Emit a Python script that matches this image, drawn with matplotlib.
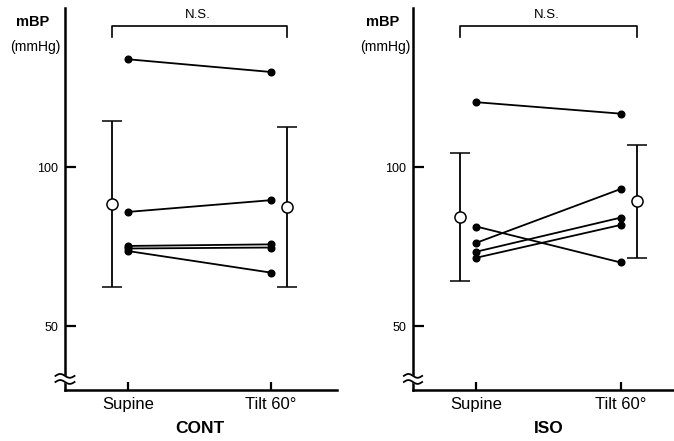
import numpy as np
import matplotlib
matplotlib.use("Agg")
import matplotlib.pyplot as plt

plt.rcParams['font.family'] = ['Liberation Sans', 'DejaVu Sans']

# Condiciones en el eje x
conditions = ['Supine', 'Tilt 60°']

# Valores individuales (mBP, mmHg)
cont_supine = [134.0, 86.0, 75.3, 74.5, 73.7]
cont_tilt = [130.0, 89.7, 75.8, 74.8, 66.9]
iso_supine = [120.5, 81.4, 76.3, 73.5, 71.6]
iso_tilt = [116.9, 70.1, 93.2, 84.2, 81.9]

# Media y desviacion estandar por condicion
cont_mean = [88.5, 87.6]
cont_sd = [26.0, 25.2]
iso_mean = [84.4, 89.4]
iso_sd = [20.2, 17.8]

group_names = ['CONT', 'ISO']
sig_label = 'N.S.'

fig = plt.figure(figsize=(6.74, 4.41), dpi=100)
ax1 = fig.add_axes([65 / 674, 51 / 441, 272 / 674, 381.6 / 441])
ax2 = fig.add_axes([413 / 674, 51 / 441, 261 / 674, 381.6 / 441])

panels = [
    (ax1, cont_supine, cont_tilt, cont_mean, cont_sd, group_names[0], (-0.44, 1.46), 0.049, 0.052),
    (ax2, iso_supine, iso_tilt, iso_mean, iso_sd, group_names[1], (-0.44, 1.37), 0.568, 0.571),
]

x = np.arange(len(conditions))
off = 0.112

for ax, sup, tilt, mean, sd, name, xl, xm, xh in panels:
    # Lineas individuales
    for a, b in zip(sup, tilt):
        ax.plot(x, [a, b], color='black', lw=1.3, marker='o', ms=4.8,
                mfc='black', mec='black', zorder=3)

    # Media +- DE
    xm_pos = x + np.array([-off, off])
    ax.errorbar(xm_pos, mean, yerr=sd, fmt='o', ms=8, mfc='white', mec='black',
                mew=1.1, ecolor='black', elinewidth=1.3, capsize=7.2,
                capthick=1.3, zorder=4)

    # Corchete de significancia
    ax.plot([xm_pos[0], xm_pos[0], xm_pos[1], xm_pos[1]], [141.0, 144.6, 144.6, 141.0],
            color='black', lw=1.2, clip_on=False)
    ax.text(x.mean() - 0.01, 146.0, sig_label, ha='center', va='bottom', fontsize=9.5)

    ax.set_xlim(*xl)
    ax.set_ylim(30, 150)
    ax.set_xticks(x)
    ax.set_xticklabels(conditions, fontsize=12)
    ax.set_yticks([50, 100])
    ax.set_yticklabels(['50', '100'], fontsize=9)
    ax.tick_params(axis='y', direction='in', length=8, width=1.6, pad=5)
    ax.tick_params(axis='x', direction='in', length=6, width=1.6, pad=5)
    for s in ['top', 'right']:
        ax.spines[s].set_visible(False)
    for s in ['left', 'bottom']:
        ax.spines[s].set_linewidth(1.8)

    ax.text(0.5, -0.1, name, transform=ax.get_xaxis_transform(), ha='center',
            va='center', fontsize=12.5, fontweight='bold')

    # Marca de corte del eje
    w = np.linspace(-0.035, 0.035, 40)
    wave = 0.005 * np.sin((w + 0.035) / 0.07 * 2 * np.pi)
    ax.fill_between(w, 0.021 + wave, 0.037 + wave, color='white',
                    transform=ax.transAxes, clip_on=False, zorder=5)
    ax.plot(w, 0.021 + wave, color='black', lw=1.3, transform=ax.transAxes,
            clip_on=False, zorder=6)
    ax.plot(w, 0.037 + wave, color='black', lw=1.3, transform=ax.transAxes,
            clip_on=False, zorder=6)

    fig.text(xm, 1 - 22 / 441, 'mBP', ha='center', va='center', fontsize=10.5, fontweight='bold')
    fig.text(xh, 1 - 47 / 441, '(mmHg)', ha='center', va='center', fontsize=10)

fig.savefig('out.png', dpi=100)
